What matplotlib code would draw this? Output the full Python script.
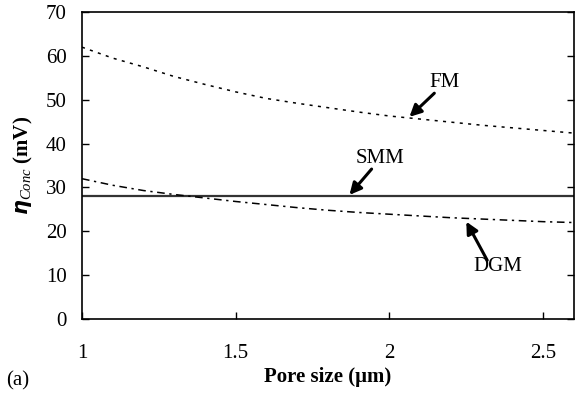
import matplotlib.pyplot as plt
import numpy as np

plt.rcParams['font.family'] = ['Liberation Serif', 'DejaVu Serif']
plt.rcParams['mathtext.fontset'] = 'custom'
plt.rcParams['mathtext.rm'] = 'Liberation Serif'
plt.rcParams['mathtext.it'] = 'Liberation Serif:italic'
plt.rcParams['mathtext.bf'] = 'Liberation Serif:bold'

# pore size (um)
pore = [1.0, 1.1, 1.2, 1.3, 1.4, 1.5, 1.6, 1.7, 1.8, 1.9, 2.0, 2.1, 2.2, 2.3, 2.4, 2.5, 2.6]
# concentration overpotential (mV)
fm = [62.0, 59.5, 57.5, 55.3, 53.5, 51.8, 50.3, 49.2, 48.2, 47.2, 46.3, 45.6, 44.9, 44.2, 43.6, 43.0, 42.4]
dgm = [32.0, 30.5, 29.3, 28.4, 27.6, 26.8, 26.1, 25.4, 24.8, 24.3, 23.9, 23.5, 23.1, 22.8, 22.5, 22.2, 22.0]
smm = [28.0] * len(pore)

fig = plt.figure(figsize=(5.75, 3.95), dpi=100)
ax = fig.add_axes([0.1426, 0.1924, 0.8555, 0.777])

ax.plot(pore, fm, color='black', lw=1.1, linestyle=(0, (2, 3.5)))
ax.plot(pore, smm, color='#333333', lw=1.6, linestyle='-')
ax.plot(pore, dgm, color='black', lw=1.1, linestyle=(0, (5, 3, 1.5, 3)))

ax.set_xlim(1, 2.6)
ax.set_ylim(0, 70)
ax.set_xticks([1, 1.5, 2, 2.5])
ax.set_xticklabels(['1', '1.5', '2', '2.5'])
ax.set_yticks(range(0, 71, 10))
ax.tick_params(direction='in', length=5, width=1, labelsize=15, right=True)
ax.tick_params(axis='y', pad=11)
ax.tick_params(axis='x', pad=18)
for sp in ax.spines.values():
    sp.set_linewidth(1.2)

ax.set_xlabel('Pore size (\u03bcm)', fontsize=15, fontweight='bold', labelpad=3)
ax.set_ylabel(r'$\boldsymbol{\eta}_{\mathit{Conc}}$ (mV)', fontsize=15, fontweight='bold', labelpad=8)

arrow = dict(arrowstyle='-|>,head_length=0.7,head_width=0.35', color='black', lw=2.2, shrinkA=0, shrinkB=0)
ax.annotate('', xy=(2.065, 46.1), xytext=(2.146, 51.5), arrowprops=arrow)
ax.text(2.179, 54.0, 'FM', fontsize=15, ha='center', va='center')
ax.annotate('', xy=(1.870, 28.3), xytext=(1.942, 34.2), arrowprops=arrow)
ax.text(1.968, 36.5, 'SMM', fontsize=15, ha='center', va='center')
ax.annotate('', xy=(2.250, 22.2), xytext=(2.318, 13.4), arrowprops=arrow)
ax.text(2.351, 12.0, 'DGM', fontsize=15, ha='center', va='center')

fig.text(0.031, 0.035, '(a)', fontsize=15, ha='center', va='center')

fig.savefig('out.png', dpi=100)
